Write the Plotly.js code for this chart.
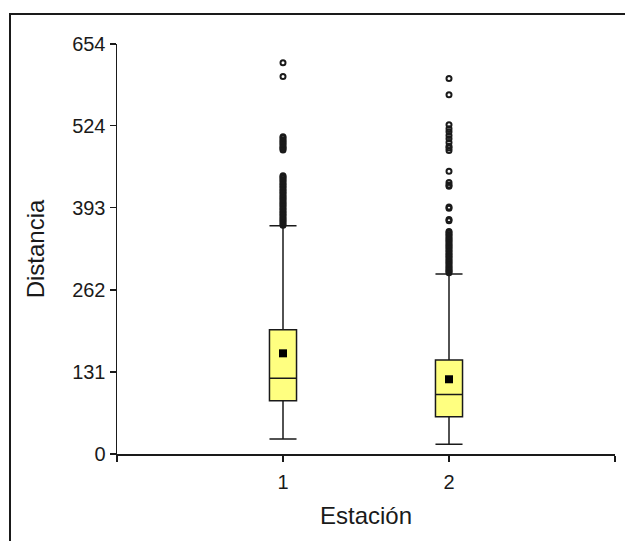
<!DOCTYPE html>
<html>
<head>
<meta charset="utf-8">
<script src="https://cdn.plot.ly/plotly-3.0.1.min.js"></script>
<style>
  html, body { margin: 0; padding: 0; background: #ffffff; }
  #chart { position: absolute; left: 0; top: 0; width: 625px; height: 541px; }
  #frame { position: absolute; left: 9px; top: 13px; width: 800px; height: 800px;
           border-left: 2px solid #1a1a1a; border-top: 2px solid #1a1a1a;
           pointer-events: none; z-index: 10; }
</style>
</head>
<body>
<div id="chart"></div>
<div id="frame"></div>
<script>
// Categories (stations)
var stations = [1, 2];
var xTickVals = [0, 1, 2, 3];
var xTickText = ['', '1', '2', ''];
var yTickVals = [0, 131, 262, 393, 524, 654];

// Box statistics per station
var q1 = [85, 59.5];
var medians = [121, 95];
var q3 = [198, 150];
var lowerWhisker = [24, 15.5];
var upperWhisker = [364, 287];
var means = [160.6, 119.2];

// Outliers per station
var outliers1 = [365, 367, 370, 372, 375, 377, 380, 382, 385, 387, 390, 392, 395, 397, 400,
                 402, 405, 407, 410, 412, 415, 417, 420, 422, 425, 427, 430, 432, 435, 437,
                 440, 442, 444,
                 485, 487, 489, 491, 494, 496, 499, 501, 504, 506,
                 602, 624];
var outliers2 = [289, 291, 293, 295, 298, 300, 303, 305, 308, 310, 313, 315, 318, 320, 323,
                 325, 328, 330, 333, 335, 338, 340, 343, 345, 348, 350, 353, 355,
                 372, 374,
                 392, 394,
                 427, 429, 433,
                 451,
                 484, 488, 491, 497, 503, 508, 514, 519, 525,
                 573, 599];

var FONT = 'Liberation Sans, Arial, sans-serif';
var INK = '#1a1a1a';

var traces = [];
stations.forEach(function (s, i) {
  traces.push({
    type: 'box',
    x: [s],
    q1: [q1[i]],
    median: [medians[i]],
    q3: [q3[i]],
    lowerfence: [lowerWhisker[i]],
    upperfence: [upperWhisker[i]],
    boxpoints: false,
    width: 0.163,
    whiskerwidth: 1,
    fillcolor: '#ffff80',
    line: { color: INK, width: 1.5 },
    showlegend: false,
    hoverinfo: 'skip'
  });
});

var outlierSets = [outliers1, outliers2];
outlierSets.forEach(function (arr, i) {
  traces.push({
    type: 'scatter',
    mode: 'markers',
    x: arr.map(function () { return stations[i]; }),
    y: arr,
    marker: { symbol: 'circle-open', size: 5, color: INK, line: { width: 2, color: INK } },
    showlegend: false,
    hoverinfo: 'skip'
  });
});

traces.push({
  type: 'scatter',
  mode: 'markers',
  x: stations,
  y: means,
  marker: { symbol: 'square', size: 8, color: '#000000' },
  showlegend: false,
  hoverinfo: 'skip'
});

var layout = {
  width: 625,
  height: 541,
  margin: { l: 117, r: 10, t: 44, b: 87 },
  paper_bgcolor: '#ffffff',
  plot_bgcolor: '#ffffff',
  font: { family: FONT, color: INK },
  showlegend: false,
  xaxis: {
    range: [0, 3],
    tickmode: 'array',
    tickvals: xTickVals,
    ticktext: xTickText,
    ticks: 'outside',
    ticklen: 6,
    tickwidth: 1.5,
    tickcolor: INK,
    showline: true,
    linecolor: INK,
    linewidth: 1.5,
    showgrid: false,
    zeroline: false,
    ticklabelstandoff: 3,
    tickfont: { family: FONT, size: 20, color: INK },
    title: { text: 'Estación', font: { family: FONT, size: 24, color: INK }, standoff: 15 },
    fixedrange: true
  },
  yaxis: {
    range: [0, 654],
    tickmode: 'array',
    tickvals: yTickVals,
    ticktext: yTickVals.map(String),
    ticks: 'outside',
    ticklen: 6,
    tickwidth: 1.5,
    tickcolor: INK,
    showline: true,
    linecolor: INK,
    linewidth: 1.5,
    showgrid: false,
    zeroline: false,
    tickfont: { family: FONT, size: 20, color: INK },
    title: { text: 'Distancia', font: { family: FONT, size: 24, color: INK }, standoff: 20 },
    fixedrange: true
  }
};

Plotly.newPlot('chart', traces, layout, { displayModeBar: false, staticPlot: true });
</script>
</body>
</html>
